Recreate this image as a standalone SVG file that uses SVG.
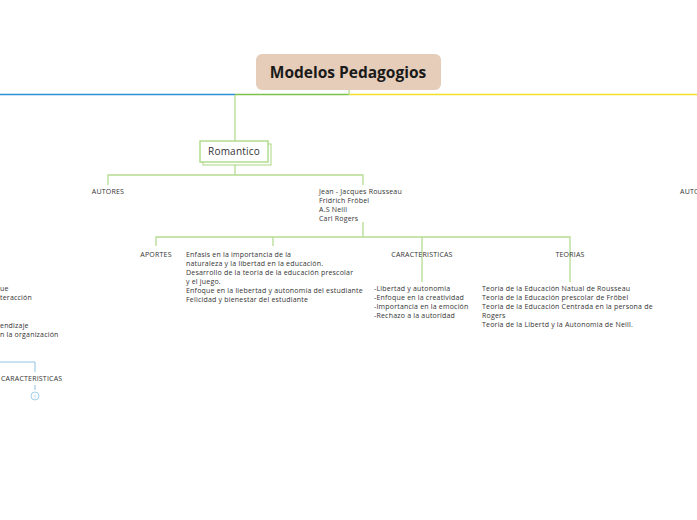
<svg xmlns="http://www.w3.org/2000/svg" width="697" height="520" viewBox="0 0 697 520">
<style>
.t{font-family:"Open Sans","Liberation Sans",sans-serif;font-size:7px;fill:#333;letter-spacing:0.2px}
.g{stroke:#b5dc92;stroke-width:1.3;fill:none}
</style>
<rect width="697" height="520" fill="#fff"/>
<g id="connectors">
<line x1="0" y1="94.5" x2="235" y2="94.5" stroke="#2f8fd8" stroke-width="1.5"/>
<line x1="235" y1="94.5" x2="349" y2="94.5" stroke="#7cc24a" stroke-width="1.5"/>
<line x1="349" y1="94.5" x2="697" y2="94.5" stroke="#f3e02a" stroke-width="1.5"/>
<line x1="349" y1="89" x2="349" y2="95" stroke="#b5dc92" stroke-width="1.3"/>
<line x1="235" y1="95" x2="235" y2="141" class="g" stroke-width="2"/>
<path class="g" d="M235 163V175M108 185V175H363V185"/>
<path class="g" d="M363 222V237M156 246V237H570V282M273 237V246M422 237V282"/>
<path d="M0 362H35V372M35 385V390" stroke="#8cc4e6" stroke-width="1" fill="none"/>
<circle cx="35" cy="396" r="4" fill="#fff" stroke="#8cc4e6" stroke-width="0.8"/>
<text x="35" y="398.5" class="t" style="font-size:5px;fill:#8cc4e6" text-anchor="middle">1</text>
</g>
<g id="central">
<rect x="256" y="54" width="185" height="36" rx="6" fill="#e5cdb9"/>
<text x="348" y="78" text-anchor="middle" style="font-family:'Open Sans','Liberation Sans',sans-serif;font-weight:bold;font-size:15.5px;fill:#1a1a1a">Modelos Pedagogios</text>
</g>
<g id="romantico">
<rect x="203" y="144" width="68" height="21" fill="#fff" stroke="#a8d77f" stroke-width="1"/>
<rect x="200" y="141" width="68" height="21" fill="#fff" stroke="#a8d77f" stroke-width="1.3"/>
<text x="234" y="155" text-anchor="middle" class="t" style="font-size:10px">Romantico</text>
</g>
<g id="autores"><text x="108" y="194" text-anchor="middle" class="t">AUTORES</text></g>
<g id="autores-right"><text x="680" y="194" class="t">AUTORES</text></g>
<g id="nombres"><text class="t" x="319" y="194">Jean - Jacques Rousseau<tspan x="319" dy="9">Fridrich Fröbel</tspan><tspan x="319" dy="9">A.S Neill</tspan><tspan x="319" dy="9">Carl Rogers</tspan></text></g>
<g id="aportes"><text x="156" y="257" text-anchor="middle" class="t">APORTES</text></g>
<g id="aportes-text"><text class="t" x="186" y="257">Enfasis en la importancia de la<tspan x="186" dy="9">naturaleza y la libertad en la educación.</tspan><tspan x="186" dy="9">Desarrollo de la teoria de la educación prescolar</tspan><tspan x="186" dy="9">y el juego.</tspan><tspan x="186" dy="9">Enfoque en la liebertad y autonomía del estudiante</tspan><tspan x="186" dy="9">Felicidad y bienestar del estudiante</tspan></text></g>
<g id="caracteristicas"><text x="422" y="257" text-anchor="middle" class="t">CARACTERISTICAS</text></g>
<g id="caract-text"><text class="t" x="374" y="291">-Libertad y autonomia<tspan x="374" dy="9">-Enfoque en la creatividad</tspan><tspan x="374" dy="9">-Importancia en la emoción</tspan><tspan x="374" dy="9">-Rechazo a la autoridad</tspan></text></g>
<g id="teorias"><text x="570" y="257" text-anchor="middle" class="t">TEORIAS</text></g>
<g id="teorias-text"><text class="t" x="482" y="291">Teoria de la Educación Natual de Rousseau<tspan x="482" dy="9">Teoria de la Educación prescolar de Fröbel</tspan><tspan x="482" dy="9">Teoria de la Educación Centrada en la persona de</tspan><tspan x="482" dy="9">Rogers</tspan><tspan x="482" dy="9">Teoria de la Libertd y la Autonomia de Neill.</tspan></text></g>
<g id="left-text"><text class="t" x="0" y="291">ue</text><text class="t" x="0" y="300">teracción</text><text class="t" x="0" y="328">endizaje</text><text class="t" x="0" y="337">n la organización</text></g>
<g id="left-caract"><text class="t" x="1" y="381">CARACTERISTICAS</text></g>
</svg>
